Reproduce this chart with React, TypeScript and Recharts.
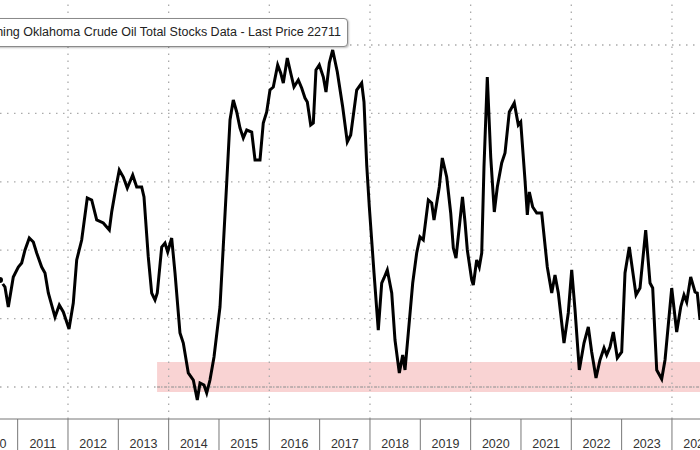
import React from 'react';
import {
  LineChart,
  Line,
  XAxis,
  YAxis,
  ReferenceArea,
  ReferenceLine,
} from 'recharts';

// weekly-ish readings, decimal year
const dates = [
  2010.649, 2010.748, 2010.814, 2010.913, 2011.013, 2011.08, 2011.146, 2011.231, 2011.311, 2011.378,
  2011.477, 2011.543, 2011.609, 2011.742, 2011.827, 2011.907, 2012.02, 2012.105, 2012.173, 2012.272,
  2012.383, 2012.471, 2012.57, 2012.701, 2012.821, 2012.868, 2012.954, 2013.019, 2013.099, 2013.178,
  2013.286, 2013.365, 2013.464, 2013.51, 2013.595, 2013.663, 2013.729, 2013.774, 2013.862, 2013.927,
  2013.981, 2014.06, 2014.126, 2014.225, 2014.291, 2014.39, 2014.49, 2014.569, 2014.623, 2014.702,
  2014.756, 2014.821, 2014.901, 2015.02, 2015.153, 2015.219, 2015.284, 2015.352, 2015.417, 2015.483,
  2015.551, 2015.65, 2015.716, 2015.815, 2015.88, 2015.948, 2016.013, 2016.079, 2016.166, 2016.226,
  2016.278, 2016.357, 2016.425, 2016.49, 2016.576, 2016.643, 2016.709, 2016.755, 2016.822, 2016.874,
  2016.927, 2016.993, 2017.073, 2017.126, 2017.192, 2017.259, 2017.351, 2017.458, 2017.549, 2017.617,
  2017.736, 2017.835, 2017.881, 2017.935, 2017.987, 2018.08, 2018.165, 2018.233, 2018.279, 2018.344,
  2018.432, 2018.497, 2018.583, 2018.65, 2018.696, 2018.761, 2018.849, 2018.928, 2018.994, 2019.059,
  2019.159, 2019.226, 2019.272, 2019.377, 2019.437, 2019.524, 2019.604, 2019.656, 2019.709, 2019.789,
  2019.838, 2019.888, 2019.934, 2020.021, 2020.053, 2020.12, 2020.172, 2020.22, 2020.265, 2020.331,
  2020.399, 2020.47, 2020.53, 2020.617, 2020.683, 2020.768, 2020.867, 2020.947, 2020.995, 2021.08,
  2021.126, 2021.166, 2021.233, 2021.313, 2021.412, 2021.523, 2021.611, 2021.676, 2021.742, 2021.855,
  2021.94, 2022.008, 2022.074, 2022.159, 2022.252, 2022.338, 2022.405, 2022.491, 2022.57, 2022.65,
  2022.703, 2022.769, 2022.835, 2022.914, 2023.001, 2023.067, 2023.152, 2023.286, 2023.365, 2023.478,
  2023.564, 2023.617, 2023.697, 2023.796, 2023.862, 2023.995, 2024.094, 2024.174, 2024.239, 2024.293,
  2024.372, 2024.458, 2024.503, 2024.557,
];

// Cushing crude stocks, thousand barrels
const stocks = [
  35640, 34620, 31700, 36080, 37540, 38130, 40030, 41780, 41200, 39590,
  37540, 36670, 33740, 30230, 31990, 30970, 28480, 32280, 38570, 41490,
  47630, 47340, 44420, 43980, 42950, 45590, 49240, 51730, 50700, 49090,
  50990, 49240, 49240, 47780, 39010, 33740, 32720, 33740, 40470, 41050,
  39740, 41780, 36670, 27890, 26430, 22050, 21020, 18100, 20580, 20290,
  19120, 21020, 24390, 31700, 49820, 59040, 61960, 60210, 57870, 56400,
  57570, 57280, 53190, 53190, 58600, 60210, 63420, 63860, 67080, 65910,
  64440, 68100, 65910, 63860, 64880, 63710, 62250, 61670, 58300, 58600,
  66350, 67080, 65320, 63130, 67370, 69270, 66050, 60940, 55820, 56840,
  63420, 64440, 61670, 52460, 46320, 36670, 28330, 35200, 35940, 37110,
  33740, 26870, 22050, 24680, 22490, 27890, 35200, 39590, 41930, 41490,
  47340, 46900, 44420, 49240, 53480, 50700, 45440, 40320, 38860, 44420,
  47780, 44120, 40030, 35640, 34910, 38570, 37540, 39590, 52160, 65320,
  53630, 45590, 49240, 52750, 54210, 60210, 61520, 58300, 58740, 50260,
  45150, 48510, 46320, 45440, 45440, 37540, 33740, 36370, 33740, 26430,
  30820, 37110, 31260, 22490, 26430, 28770, 25120, 21320, 23950, 25700,
  24680, 25850, 28040, 24240, 25120, 36670, 40470, 33450, 34470, 42950,
  35200, 34470, 22490, 21170, 23950, 34470, 28040, 31700, 33450, 32430,
  36080, 33890, 33740, 29800,
];

const yearTicks = [2011, 2012, 2013, 2014, 2015, 2016, 2017, 2018, 2019, 2020, 2021, 2022, 2023, 2024];
const gridYears = [2012, 2014, 2016, 2018, 2020, 2022, 2024];
const gridLevels = [20000, 30000, 40000, 50000, 60000, 70000];
const lowBand = [19270, 23660];
const bandStart = 2013.77;

const data = dates.map((t, i) => ({ t, v: stocks[i] }));

const X_MIN = 2010.649;
const X_MAX = 2024.557;
const HALF_YEAR_PX = 25.17;
const FONT = '"Liberation Sans", Arial, sans-serif';

const YearTick = (props: any) => {
  const { x, y, payload, index } = props;
  const yr = payload.value;
  return (
    <g>
      <line x1={x} x2={x} y1={y} y2={y + 32} stroke="#777" strokeWidth={1} />
      {index === 0 && (
        <text x={x - HALF_YEAR_PX} y={y + 29} textAnchor="middle" fontSize={12.5} fill="#333" fontFamily={FONT}>
          {yr - 1}
        </text>
      )}
      <text x={x + HALF_YEAR_PX} y={y + 29} textAnchor="middle" fontSize={12.5} fill="#333" fontFamily={FONT}>
        {yr}
      </text>
    </g>
  );
};

export default function App() {
  return (
    <div
      style={{
        position: 'relative',
        width: 700,
        height: 450,
        overflow: 'hidden',
        background: '#fff',
        fontFamily: FONT,
      }}
    >
      <style>{`body{margin:0}`}</style>
      <LineChart width={700} height={450} data={data} margin={{ top: 0, right: 0, left: 0, bottom: 0 }}>
        <XAxis
          dataKey="t"
          type="number"
          domain={[X_MIN, X_MAX]}
          allowDataOverflow
          ticks={yearTicks}
          interval={0}
          height={31}
          tickLine={false}
          tickSize={0}
          tickMargin={0}
          axisLine={{ stroke: '#777' }}
          tick={<YearTick />}
        />
        <YAxis hide type="number" domain={[15322, 76579]} allowDataOverflow />
        <ReferenceArea
          x1={bandStart}
          x2={X_MAX}
          y1={lowBand[0]}
          y2={lowBand[1]}
          fill="#f9d3d3"
          fillOpacity={1}
          stroke="none"
          ifOverflow="hidden"
        />
        {gridLevels.map((g) => (
          <ReferenceLine key={'h' + g} y={g} stroke="#aaa" strokeDasharray="1.5 5.5" strokeWidth={1.3} />
        ))}
        <ReferenceLine
          segment={[
            { x: bandStart, y: 20000 },
            { x: X_MAX, y: 20000 },
          ]}
          stroke="#8c8c8c"
          strokeDasharray="3 4"
          strokeWidth={1.2}
        />
        {gridYears.map((g) => (
          <ReferenceLine key={'v' + g} x={g} stroke="#aaa" strokeDasharray="1.5 5.5" strokeWidth={1.3} />
        ))}
        <Line
          type="linear"
          dataKey="v"
          stroke="#000"
          strokeWidth={3}
          dot={false}
          isAnimationActive={false}
        />
      </LineChart>
      <div
        style={{
          position: 'absolute',
          right: 352,
          top: 18,
          height: 27,
          lineHeight: '27px',
          padding: '0 6px 0 8px',
          border: '1.5px solid #8a8a8a',
          borderRadius: 4,
          background: '#fff',
          whiteSpace: 'nowrap',
          fontSize: 12.5,
          color: '#222',
          boxShadow: '1px 1px 2px rgba(0,0,0,0.25)',
        }}
      >
        Cushing Oklahoma Crude Oil Total Stocks Data - Last Price 22711
      </div>
    </div>
  );
}
